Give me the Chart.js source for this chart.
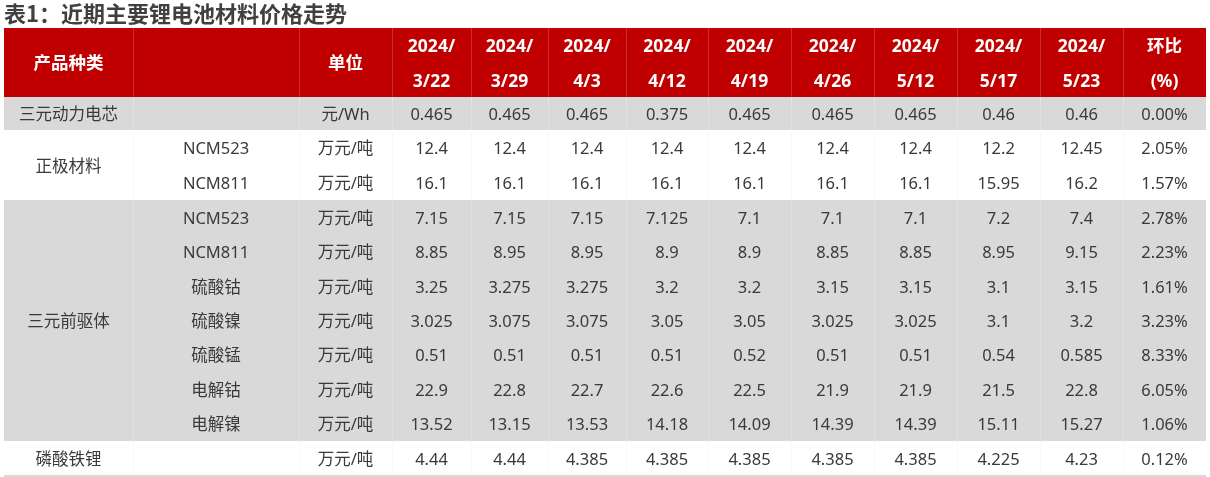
<!DOCTYPE html>
<html>
<head>
<meta charset="utf-8">
<script src="https://cdn.jsdelivr.net/npm/chart.js@4"></script>
<style>
  html, body { margin: 0; padding: 0; background: #ffffff; }
  #wrap { width: 1210px; height: 477px; position: relative; }
</style>
</head>
<body>
<div id="wrap"><canvas id="c"></canvas></div>
<script>
// ---------------- DATA ----------------
const titleText = '表1：近期主要锂电池材料价格走势';
const headerProduct = '产品种类';
const headerUnit = '单位';
const headerChange = ['环比', '(%)'];
const dates = ['2024/3/22', '2024/3/29', '2024/4/3', '2024/4/12', '2024/4/19', '2024/4/26', '2024/5/12', '2024/5/17', '2024/5/23'];

const categories = ['三元动力电芯', '正极材料', '三元前驱体', '磷酸铁锂'];
const categoryRowCounts = [1, 2, 7, 1];
const items = ['', 'NCM523', 'NCM811', 'NCM523', 'NCM811', '硫酸钴', '硫酸镍', '硫酸锰', '电解钴', '电解镍', ''];
const units = ['元/Wh', '万元/吨', '万元/吨', '万元/吨', '万元/吨', '万元/吨', '万元/吨', '万元/吨', '万元/吨', '万元/吨', '万元/吨'];

const cellPrice      = [0.465, 0.465, 0.465, 0.375, 0.465, 0.465, 0.465, 0.46, 0.46];
const cathodeNCM523  = [12.4, 12.4, 12.4, 12.4, 12.4, 12.4, 12.4, 12.2, 12.45];
const cathodeNCM811  = [16.1, 16.1, 16.1, 16.1, 16.1, 16.1, 16.1, 15.95, 16.2];
const precNCM523     = [7.15, 7.15, 7.15, 7.125, 7.1, 7.1, 7.1, 7.2, 7.4];
const precNCM811     = [8.85, 8.95, 8.95, 8.9, 8.9, 8.85, 8.85, 8.95, 9.15];
const cobaltSulfate  = [3.25, 3.275, 3.275, 3.2, 3.2, 3.15, 3.15, 3.1, 3.15];
const nickelSulfate  = [3.025, 3.075, 3.075, 3.05, 3.05, 3.025, 3.025, 3.1, 3.2];
const manganeseSulfate = [0.51, 0.51, 0.51, 0.51, 0.52, 0.51, 0.51, 0.54, 0.585];
const cobaltMetal    = [22.9, 22.8, 22.7, 22.6, 22.5, 21.9, 21.9, 21.5, 22.8];
const nickelMetal    = [13.52, 13.15, 13.53, 14.18, 14.09, 14.39, 14.39, 15.11, 15.27];
const lfp            = [4.44, 4.44, 4.385, 4.385, 4.385, 4.385, 4.385, 4.225, 4.23];
const changePct      = [0.00, 2.05, 1.57, 2.78, 2.23, 1.61, 3.23, 8.33, 6.05, 1.06, 0.12];

const priceRows = [cellPrice, cathodeNCM523, cathodeNCM811, precNCM523, precNCM811,
  cobaltSulfate, nickelSulfate, manganeseSulfate, cobaltMetal, nickelMetal, lfp];

// ---------------- LAYOUT (table geometry in scale units) ----------------
const colWidths = [129, 166, 93, 79, 77, 78, 82, 83, 83, 83, 83, 83, 83];
const headerHeight = 69;
const rowHeights = [33, 35, 35, 34.43, 34.43, 34.43, 34.43, 34.43, 34.43, 34.43, 35];

const colEdges = [0];
colWidths.forEach(w => colEdges.push(colEdges[colEdges.length - 1] + w));
const rowEdges = [0, headerHeight];
rowHeights.forEach(h => rowEdges.push(rowEdges[rowEdges.length - 1] + h));
const totalW = colEdges[colEdges.length - 1];
const totalH = rowEdges[rowEdges.length - 1] + 1;

const RED = '#C00000';
const RED_LINE = '#CD2B2B';
const GRAY = '#D9D9D9';
const GRAY_LINE = '#E2E2E2';
const TEXT = '#3A3A3A';
const BODY_FONT = '16.5px "Noto Sans", "Noto Sans CJK SC", sans-serif';
const HEAD_FONT = 'bold 17.5px "Noto Sans", "Noto Sans CJK SC", sans-serif';
const TEXT_DY = 1.8;

const tablePlugin = {
  id: 'tablePlugin',
  beforeDatasetsDraw(chart) {
    const ctx = chart.ctx;
    const X = v => chart.scales.x.getPixelForValue(v);
    const Y = v => chart.scales.y.getPixelForValue(v);
    ctx.save();
    // header
    ctx.fillStyle = RED;
    ctx.fillRect(X(0), Y(0), X(totalW) - X(0), Y(headerHeight) - Y(0));
    // body group backgrounds
    let r = 0;
    categoryRowCounts.forEach((n, g) => {
      const y0 = Y(rowEdges[1 + r]), y1 = Y(rowEdges[1 + r + n]);
      ctx.fillStyle = (g % 2 === 0) ? GRAY : '#FFFFFF';
      ctx.fillRect(X(0), y0, X(totalW) - X(0), y1 - y0);
      // vertical faint lines
      ctx.strokeStyle = (g % 2 === 0) ? GRAY_LINE : '#F8F8F8';
      ctx.lineWidth = 1;
      for (let c = 1; c < colEdges.length - 1; c++) {
        const x = Math.round(X(colEdges[c])) + 0.5;
        ctx.beginPath(); ctx.moveTo(x, y0); ctx.lineTo(x, y1); ctx.stroke();
      }
      r += n;
    });
    // header vertical lines
    ctx.strokeStyle = RED_LINE;
    for (let c = 1; c < colEdges.length - 1; c++) {
      const x = Math.round(X(colEdges[c])) + 0.5;
      ctx.beginPath(); ctx.moveTo(x, Y(0)); ctx.lineTo(x, Y(headerHeight)); ctx.stroke();
    }
    // bottom border
    ctx.fillStyle = GRAY;
    const yb = Y(rowEdges[rowEdges.length - 1]);
    ctx.fillRect(X(0), yb - 1, X(totalW) - X(0), 2);
    ctx.restore();
  },
  afterDatasetsDraw(chart) {
    const ctx = chart.ctx;
    const X = v => chart.scales.x.getPixelForValue(v);
    const Y = v => chart.scales.y.getPixelForValue(v);
    const cx = c => (X(colEdges[c]) + X(colEdges[c + 1])) / 2;
    const cy = (a, b) => (Y(rowEdges[a]) + Y(rowEdges[b])) / 2 + TEXT_DY;
    ctx.save();
    ctx.textAlign = 'center';
    ctx.textBaseline = 'middle';
    // header texts
    ctx.fillStyle = '#FFFFFF';
    ctx.font = HEAD_FONT;
    const hy = cy(0, 1);
    ctx.fillText(headerProduct, cx(0), hy);
    ctx.fillText(headerUnit, cx(2), hy);
    dates.forEach((d, i) => {
      const k = d.indexOf('/');
      ctx.fillText(d.slice(0, k + 1), cx(3 + i), hy - 17.5);
      ctx.fillText(d.slice(k + 1), cx(3 + i), hy + 17.5);
    });
    ctx.fillText(headerChange[0], cx(12), hy - 17.5);
    ctx.fillText(headerChange[1], cx(12), hy + 17.5);
    // body texts
    ctx.fillStyle = TEXT;
    ctx.font = BODY_FONT;
    let r = 0;
    categoryRowCounts.forEach((n, g) => {
      ctx.fillText(categories[g], cx(0), cy(1 + r, 1 + r + n));
      r += n;
    });
    priceRows.forEach((row, i) => {
      const y = cy(1 + i, 2 + i);
      if (items[i]) ctx.fillText(items[i], cx(1), y);
      ctx.fillText(units[i], cx(2), y);
      row.forEach((v, j) => ctx.fillText(String(v), cx(3 + j), y));
      ctx.fillText(changePct[i].toFixed(2) + '%', cx(12), y);
    });
    ctx.restore();
  }
};

new Chart(document.getElementById('c'), {
  type: 'scatter',
  data: { datasets: [{ data: [], pointRadius: 0 }] },
  options: {
    responsive: true,
    maintainAspectRatio: false,
    animation: false,
    events: [],
    layout: { padding: { left: 4, right: 4, top: 0, bottom: 0 } },
    plugins: {
      legend: { display: false },
      tooltip: { enabled: false },
      title: {
        display: true,
        text: titleText,
        align: 'start',
        color: '#404040',
        padding: 0,
        font: { family: '"Noto Sans CJK SC", "Noto Sans", sans-serif', size: 22, weight: 'bold', lineHeight: '28px' }
      }
    },
    scales: {
      x: { type: 'linear', min: 0, max: totalW, display: false },
      y: { type: 'linear', min: 0, max: totalH, reverse: true, display: false }
    }
  },
  plugins: [tablePlugin]
});
</script>
</body>
</html>
